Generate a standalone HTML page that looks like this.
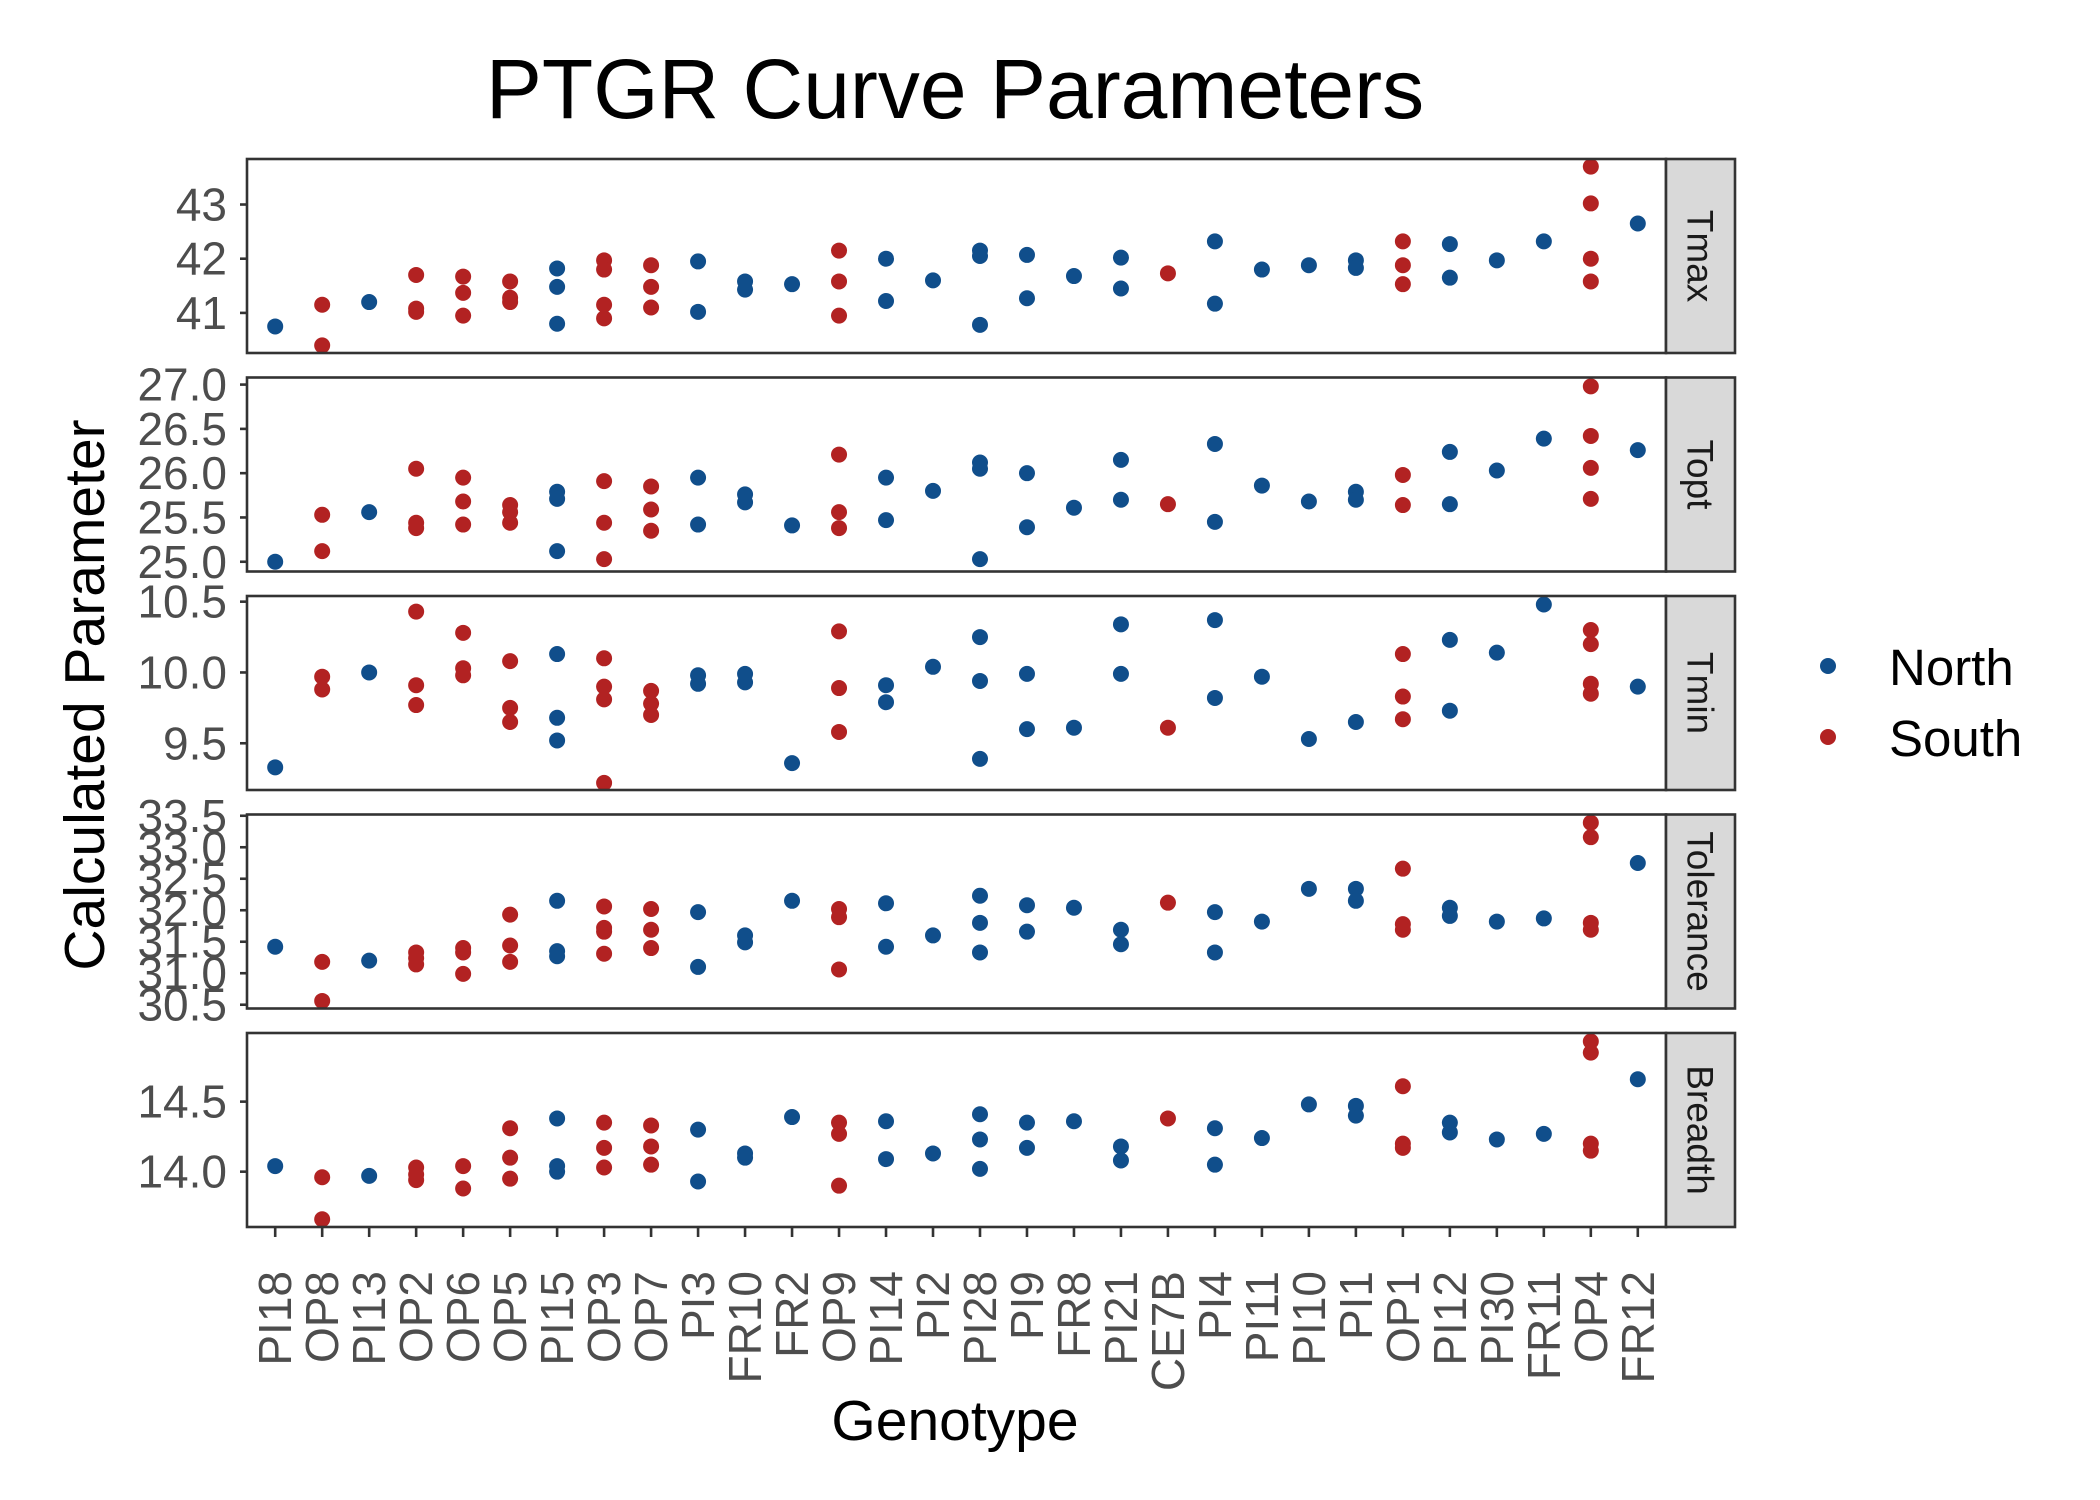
<!DOCTYPE html>
<html><head><meta charset="utf-8"><title>PTGR Curve Parameters</title>
<style>
html,body{margin:0;padding:0;background:#fff;}
svg{display:block;font-family:"Liberation Sans",Arial,sans-serif;}
</style></head>
<body>
<svg id="chart" width="2100" height="1500" viewBox="0 0 2100 1500" xmlns="http://www.w3.org/2000/svg">
<rect width="2100" height="1500" fill="#fff"/>
<text x="955" y="118" font-size="84" text-anchor="middle" fill="#000">PTGR Curve Parameters</text>
<text x="955" y="1440" font-size="57" text-anchor="middle" fill="#000">Genotype</text>
<text transform="translate(104,695) rotate(-90)" font-size="57" text-anchor="middle" fill="#000">Calculated Parameter</text>
<g id="panels"></g>
<g id="xaxis"></g>
<g>
<circle cx="1828" cy="666" r="8" fill="#104e8b"/>
<text x="1889" y="685" font-size="51" fill="#000">North</text>
<circle cx="1828" cy="737" r="8" fill="#b22222"/>
<text x="1889" y="756" font-size="51" fill="#000">South</text>
</g>
</svg>
<script>
const categories=["PI18","OP8","PI13","OP2","OP6","OP5","PI15","OP3","OP7","PI3","FR10","FR2","OP9","PI14","PI2","PI28","PI9","FR8","PI21","CE7B","PI4","PI11","PI10","PI1","OP1","PI12","PI30","FR11","OP4","FR12"];
const region=["North","South","North","South","South","South","North","South","South","North","North","North","South","North","North","North","North","North","North","South","North","North","North","North","South","North","North","North","South","North"];
const tmaxValues=[[40.75],[41.15,40.4],[41.2],[41.7,41.08,41.02],[41.67,41.37,40.95],[41.58,41.28,41.2],[41.82,41.48,40.8],[41.97,41.8,41.15,40.9],[41.88,41.48,41.1],[41.95,41.02],[41.58,41.43],[41.53],[42.15,41.58,40.95],[42.0,41.22],[41.6],[42.15,42.05,40.78],[42.07,41.27],[41.68],[42.02,41.45],[41.73],[42.32,41.17],[41.8],[41.88],[41.97,41.83],[42.32,41.88,41.53],[42.27,41.65],[41.97],[42.32],[43.7,43.02,42.0,41.58],[42.65]];
const toptValues=[[25.0],[25.53,25.12],[25.56],[26.05,25.44,25.38],[25.95,25.68,25.42],[25.64,25.56,25.44],[25.79,25.71,25.12],[25.91,25.44,25.03],[25.85,25.59,25.35],[25.95,25.42],[25.76,25.67],[25.41],[26.21,25.56,25.38],[25.95,25.47],[25.8],[26.12,26.05,25.03],[26.0,25.39],[25.61],[26.15,25.7],[25.65],[26.33,25.45],[25.86],[25.68],[25.79,25.7],[25.98,25.64],[26.24,25.65],[26.03],[26.39],[26.98,26.42,26.06,25.71],[26.26]];
const tminValues=[[9.33],[9.97,9.88],[10.0],[10.43,9.91,9.77],[10.28,10.03,9.98],[10.08,9.75,9.65],[10.13,9.68,9.52],[10.1,9.9,9.81,9.22],[9.87,9.78,9.7],[9.98,9.92],[9.99,9.93],[9.36],[10.29,9.89,9.58],[9.91,9.79],[10.04],[10.25,9.94,9.39],[9.99,9.6],[9.61],[10.34,9.99],[9.61],[10.37,9.82],[9.97],[9.53],[9.65],[10.13,9.83,9.67],[10.23,9.73],[10.14],[10.48],[10.3,10.2,9.92,9.85],[9.9]];
const toleranceValues=[[31.42],[31.18,30.56],[31.2],[31.33,31.24,31.14],[31.4,31.33,30.99],[31.93,31.44,31.18],[32.15,31.35,31.27],[32.06,31.72,31.66,31.31],[32.02,31.69,31.4],[31.97,31.1],[31.6,31.49],[32.15],[32.02,31.89,31.06],[32.11,31.42],[31.6],[32.23,31.8,31.33],[32.08,31.66],[32.04],[31.69,31.46],[32.12],[31.97,31.33],[31.82],[32.34],[32.34,32.15],[32.66,31.78,31.69],[32.04,31.91],[31.82],[31.87],[33.39,33.16,31.8,31.69],[32.75]];
const breadthValues=[[14.04],[13.96,13.66],[13.97],[14.03,13.98,13.94],[14.04,13.88],[14.31,14.1,13.95],[14.38,14.04,14.0],[14.35,14.17,14.03],[14.33,14.18,14.05],[14.3,13.93],[14.13,14.1],[14.39],[14.35,14.27,13.9],[14.36,14.09],[14.13],[14.41,14.23,14.02],[14.35,14.17],[14.36],[14.18,14.08],[14.38],[14.31,14.05],[14.24],[14.48],[14.47,14.4],[14.61,14.2,14.17],[14.35,14.28],[14.23],[14.27],[14.93,14.85,14.2,14.15],[14.66]];
const tmaxTicks=[41,42,43];
const toptTicks=["25.0","25.5","26.0","26.5","27.0"];
const tminTicks=["9.5","10.0","10.5"];
const toleranceTicks=["30.5","31.0","31.5","32.0","32.5","33.0","33.5"];
const breadthTicks=["14.0","14.5"];
const panelNames=["Tmax","Topt","Tmin","Tolerance","Breadth"];

const NS="http://www.w3.org/2000/svg";
const PL=247,PR=1666,SW=69,PH=194;
const tops=[159,377.5,596,814.5,1033];
const domains=[[40.26,43.84],[24.89,27.08],[9.17,10.54],[30.44,33.52],[13.605,14.99]];
const panelValues=[tmaxValues,toptValues,tminValues,toleranceValues,breadthValues];
const panelTicks=[tmaxTicks,toptTicks,tminTicks,toleranceTicks,breadthTicks];
const colors={North:"#104e8b",South:"#b22222"};
const step=(PR-PL)/(categories.length-1+1.2);
function xScale(i){return PL+step*(0.6+i);}
function yScale(p,v){const d=domains[p];return tops[p]+PH*(d[1]-v)/(d[1]-d[0]);}
function mk(tag,attrs,parent){const e=document.createElementNS(NS,tag);for(const k in attrs)e.setAttribute(k,attrs[k]);parent.appendChild(e);return e;}
const panelsG=document.getElementById("panels");
panelNames.forEach((name,p)=>{
  const g=mk("g",{},panelsG);
  
  
  const top=tops[p];
  const r=mk("rect",{x:PL,y:top,width:PR-PL,height:PH,fill:"#fff"},g);
  
  
  panelTicks[p].forEach(t=>{
    const y=yScale(p,parseFloat(t));
    const tk=mk("line",{x1:PL-7,x2:PL,y1:y,y2:y,stroke:"#333","stroke-width":2.6},g);
    
    
    const tl=mk("text",{x:PL-20,y:y+16,"font-size":46,"text-anchor":"end",fill:"#4d4d4d"},g);
    tl.textContent=t;
    
    
  });
  panelValues[p].forEach((vals,i)=>{
    vals.forEach(v=>{
      const c=mk("circle",{cx:xScale(i),cy:yScale(p,v),r:8,fill:colors[region[i]]},g);
      
      
    });
  });
  const bd=mk("rect",{x:PL,y:top,width:PR-PL,height:PH,fill:"none",stroke:"#333","stroke-width":2.6},g);
  
  
  const st=mk("rect",{x:PR,y:top,width:SW,height:PH,fill:"#d9d9d9",stroke:"#333","stroke-width":2.6},g);
  
  
  const sx=PR+SW/2, sy=top+PH/2;
  const stt=mk("text",{transform:"translate("+(sx-13)+","+sy+") rotate(90)","font-size":37,"text-anchor":"middle",fill:"#1a1a1a"},g);
  stt.textContent=name;
  
  
});
const xg=document.getElementById("xaxis");
const bottom=tops[4]+PH;
categories.forEach((c,i)=>{
  const x=xScale(i);
  const tk=mk("line",{x1:x,x2:x,y1:bottom,y2:bottom+10,stroke:"#333","stroke-width":2.6},xg);
  
  
  const t=mk("text",{transform:"translate("+(x+16)+","+(bottom+44)+") rotate(-90)","font-size":46,"text-anchor":"end",fill:"#4d4d4d"},xg);
  t.textContent=c;
  
  
});
</script>
</body></html>
